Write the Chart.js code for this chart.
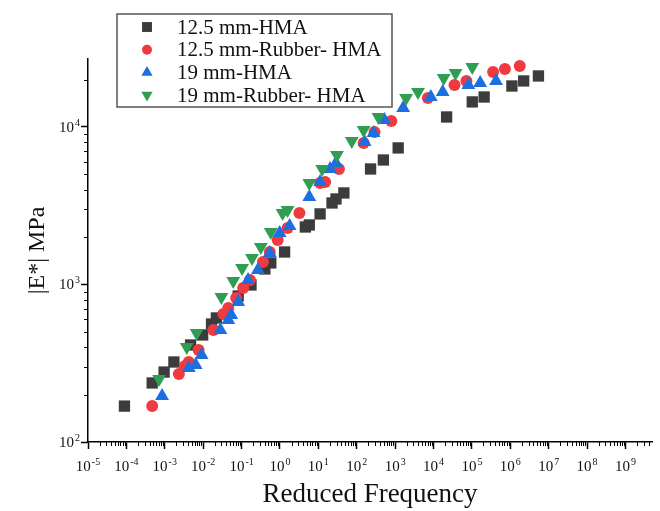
<!DOCTYPE html>
<html lang="en">
<head>
<meta charset="UTF-8">
<title>|E*| master curves</title>
<script src="https://cdn.jsdelivr.net/npm/chart.js"></script>
<style>
  html, body { margin: 0; padding: 0; background: #fff; }
  #box { width: 660px; height: 511px; }
</style>
</head>
<body>
<div id="box"><canvas id="grafico"></canvas></div>

<script>
// series names
const seriesNames = ['12.5 mm-HMA', '12.5 mm-Rubber- HMA', '19 mm-HMA', '19 mm-Rubber- HMA'];

// 12.5 mm-HMA
const hma125Freq = [8.9e-5, 4.7e-4, 9.6e-4, 1.73e-3, 4.7e-3, 9.7e-3, 0.0165, 0.0221, 0.0815, 0.176, 0.404, 0.577, 1.32, 4.58, 5.81, 11.1, 22.7, 28.8, 46.2, 229, 494, 1200, 21900, 102000, 208000, 1.1e6, 2.23e6, 5.4e6];
const hma125Mod = [169, 237, 278, 322, 413, 478, 561, 613, 845, 993, 1254, 1370, 1608, 2317, 2387, 2805, 3291, 3491, 3811, 5410, 6170, 7360, 11570, 14420, 15490, 18200, 19590, 21070];

// 12.5 mm-Rubber- HMA
const rub125Freq = [4.7e-4, 2.33e-3, 3.33e-3, 4.22e-3, 7.6e-3, 0.0185, 0.0335, 0.0451, 0.0724, 0.110, 0.166, 0.359, 0.543, 0.873, 1.58, 3.21, 11.1, 15.0, 34.4, 151, 290, 794, 7110, 35200, 71800, 356000, 724000, 1.76e6];
const rub125Mod = [169, 270, 304, 322, 384, 514, 650, 709, 821, 950, 1069, 1390, 1608, 1918, 2285, 2844, 4406, 4477, 5410, 7910, 9290, 10920, 15280, 18490, 19590, 22340, 23340, 24380];

// 19 mm-HMA
const hma19Freq = [8.5e-4, 4.22e-3, 6.38e-3, 9.1e-3, 0.0281, 0.0451, 0.0538, 0.0815, 0.148, 0.267, 0.543, 0.982, 1.78, 5.81, 11.1, 20.2, 28.8, 160, 274, 525, 1620, 8490, 17300, 80700, 164000, 425000];
const hma19Mod = [196, 295, 308, 357, 514, 595, 640, 774, 1069, 1236, 1585, 2123, 2351, 3594, 4477, 5410, 5906, 8035, 9160, 11070, 13210, 15490, 16680, 18490, 19030, 19590];

// 19 mm-Rubber- HMA
const rub19Freq = [7.1e-4, 3.74e-3, 6.78e-3, 0.0298, 0.0607, 0.103, 0.187, 0.318, 0.577, 1.17, 1.58, 5.81, 12.6, 30.5, 74.3, 151, 368, 1930, 3940, 18400, 37400, 102000];
const rub19Mod = [251, 401, 492, 833, 1052, 1273, 1473, 1730, 2154, 2844, 2972, 4406, 5410, 6640, 8150, 9570, 11570, 15280, 16680, 20470, 22030, 24040];

// tick labels (decades)
const xDecades = [-5, -4, -3, -2, -1, 0, 1, 2, 3, 4, 5, 6, 7, 8, 9];
const yDecades = [2, 3, 4];

function pontos(xs, ys) {
    return xs.map((x, i) => ({ x: x, y: ys[i] }));
}

const serif = 'Liberation Serif, Times New Roman, serif';

// writes "10" with a raised exponent; align: 'center' or 'right'
function escrevePotencia(ctx, exp, x, y, align) {
    const base = '10', e = String(exp).replace('-', '\u2212').replace('\u2212', '-');
    ctx.font = '15px ' + serif;
    const wb = ctx.measureText(base).width;
    ctx.font = '10px ' + serif;
    const we = ctx.measureText(e).width;
    const w = wb + we + 1;
    let x0 = align === 'right' ? x - w : x - w / 2;
    ctx.textAlign = 'left';
    ctx.textBaseline = 'alphabetic';
    ctx.font = '15px ' + serif;
    ctx.fillText(base, x0, y);
    ctx.font = '10px ' + serif;
    ctx.fillText(e, x0 + wb + 1, y - 6);
}

// minor ticks, tick labels and boxed legend
const extras = {
    id: 'extras',
    afterDraw(chart) {
        const ctx = chart.ctx;
        const xs = chart.scales.x, ys = chart.scales.y;
        ctx.save();
        ctx.strokeStyle = '#000';
        ctx.lineWidth = 1;
        ctx.beginPath();
        for (const d of xDecades) {
            for (let k = 2; k <= 9; k++) {
                const px = Math.round(xs.getPixelForValue(k * Math.pow(10, d))) + 0.5;
                if (px > xs.right) continue;
                ctx.moveTo(px, xs.top);
                ctx.lineTo(px, xs.top + 4);
            }
        }
        for (const d of yDecades) {
            for (let k = 2; k <= 9; k++) {
                const py = Math.round(ys.getPixelForValue(k * Math.pow(10, d))) + 0.5;
                if (py < ys.top) continue;
                ctx.moveTo(ys.right, py);
                ctx.lineTo(ys.right - 4, py);
            }
        }
        ctx.stroke();

        // tick labels
        ctx.fillStyle = '#111';
        for (const d of xDecades) {
            const px = xs.getPixelForValue(Math.pow(10, d));
            escrevePotencia(ctx, d, px, xs.top + 29, 'center');
        }
        for (const d of yDecades) {
            const py = ys.getPixelForValue(Math.pow(10, d));
            escrevePotencia(ctx, d, ys.right - 8, py + 5, 'right');
        }

        // legend
        const bx = 117, by = 14, bw = 275, bh = 93;
        ctx.fillStyle = '#fff';
        ctx.fillRect(bx, by, bw, bh);
        ctx.strokeStyle = '#555';
        ctx.lineWidth = 1.5;
        ctx.strokeRect(bx, by, bw, bh);
        ctx.font = '21px ' + serif;
        ctx.textAlign = 'left';
        ctx.textBaseline = 'middle';
        chart.data.datasets.forEach((ds, i) => {
            const cy = 27 + i * 22.7;
            ctx.fillStyle = ds.backgroundColor;
            Chart.helpers.drawPoint(ctx, {
                pointStyle: ds.pointStyle,
                radius: ds.pointStyle === 'circle' ? 5 : (ds.pointStyle === 'rect' ? 7 : 6.5),
                rotation: ds.rotation || 0,
                borderWidth: 0
            }, 147, cy);
            ctx.fillStyle = '#111';
            ctx.fillText(ds.label, 177, cy + 1);
        });
        ctx.restore();
    }
};

const dados = {
    datasets: [
        { label: seriesNames[0], data: pontos(hma125Freq, hma125Mod), order: 4, pointStyle: 'rect', pointRadius: 8, backgroundColor: '#3c3c3c', borderWidth: 0 },
        { label: seriesNames[1], data: pontos(rub125Freq, rub125Mod), order: 3, pointStyle: 'circle', pointRadius: 6, backgroundColor: '#ef3b3f', borderWidth: 0 },
        { label: seriesNames[2], data: pontos(hma19Freq, hma19Mod), order: 2, pointStyle: 'triangle', pointRadius: 8, backgroundColor: '#1d6fe0', borderWidth: 0 },
        { label: seriesNames[3], data: pontos(rub19Freq, rub19Mod), order: 1, pointStyle: 'triangle', rotation: 180, pointRadius: 8, backgroundColor: '#2f9d52', borderWidth: 0 }
    ]
};

const config = {
    type: 'scatter',
    data: dados,
    options: {
        responsive: true,
        maintainAspectRatio: false,
        animation: false,
        layout: { padding: { top: 59, right: 1, left: 0, bottom: 0 } },
        plugins: {
            legend: { display: false },
            tooltip: { enabled: false }
        },
        scales: {
            x: {
                type: 'logarithmic',
                min: 1e-5,
                max: 4.9e9,
                afterBuildTicks: s => { s.ticks = xDecades.map(d => ({ value: Math.pow(10, d) })); },
                afterFit: s => { s.height = 69; },
                border: { display: true, color: '#000', width: 1.5 },
                grid: { drawOnChartArea: false, drawTicks: true, tickLength: 7, tickColor: '#000', tickWidth: 1.5 },
                ticks: { display: false, autoSkip: false, maxRotation: 0 },
                title: {
                    display: true, text: 'Reduced Frequency', color: '#111',
                    font: { family: serif, size: 27 }, padding: { top: 0, bottom: 0 }
                }
            },
            y: {
                type: 'logarithmic',
                min: 100,
                max: 27000,
                afterBuildTicks: s => { s.ticks = yDecades.map(d => ({ value: Math.pow(10, d) })); },
                afterFit: s => { s.width = 88; },
                border: { display: true, color: '#000', width: 1.5 },
                grid: { drawOnChartArea: false, drawTicks: true, tickLength: 7, tickColor: '#000', tickWidth: 1.5 },
                ticks: { display: false, autoSkip: false },
                title: {
                    display: true, text: '|E*| MPa', color: '#111',
                    font: { family: serif, size: 24 }, padding: { top: 23, bottom: 0 }
                }
            }
        }
    },
    plugins: [extras]
};

let myChart = new Chart(document.getElementById('grafico'), config);
</script>
</body>
</html>
